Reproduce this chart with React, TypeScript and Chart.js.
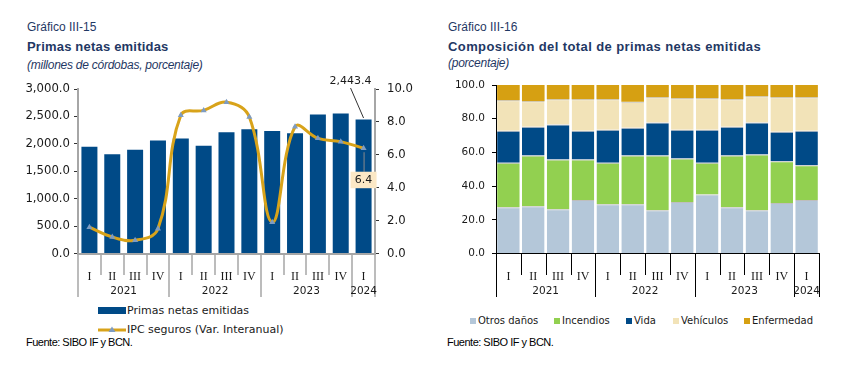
import React, { useEffect, useRef } from "react";
import { Chart, registerables } from "chart.js";

Chart.register(...registerables);

// ---------- data ----------
const quarters = ["I", "II", "III", "IV", "I", "II", "III", "IV", "I", "II", "III", "IV", "I"];
const yearLabels = ["2021", "2022", "2023", "2024"];
const yearSpans = [4, 4, 4, 1];

// Gráfico III-15
const primasNetas = [1945, 1811, 1890, 2061, 2098, 1963, 2213, 2268, 2232, 2195, 2537, 2555, 2443.4];
const ipcSeguros = [1.6, 1.0, 0.8, 1.5, 8.4, 8.7, 9.2, 8.3, 1.9, 7.7, 7.0, 6.8, 6.4];
const leftAxisMax = 3000;
const leftAxisStep = 500;
const rightAxisMax = 10;
const rightAxisStep = 2;

// Gráfico III-16 (porcentaje)
const compSeries = ["Otros daños", "Incendios", "Vida", "Vehículos", "Enfermedad"];
const otrosDanos = [27.5, 28.1, 26.3, 31.7, 29.3, 29.3, 25.7, 30.5, 35.0, 27.5, 25.7, 29.9, 31.7];
const incendios = [26.4, 30.1, 29.5, 24.1, 24.6, 28.9, 32.5, 25.9, 18.9, 30.7, 33.1, 24.8, 20.6];
const vida = [19.0, 17.0, 20.8, 17.1, 19.6, 16.5, 19.6, 17.1, 19.6, 17.0, 19.0, 17.6, 20.6];
const vehiculos = [18.0, 15.1, 14.9, 18.6, 18.0, 15.4, 14.9, 18.6, 18.6, 16.3, 15.5, 20.4, 19.8];
const enfermedad = [9.1, 9.7, 8.5, 8.5, 8.5, 9.9, 7.3, 7.9, 7.9, 8.5, 6.7, 7.3, 7.3];
const compAxisMax = 100;
const compAxisStep = 20;

// ---------- styles ----------
const VERDANA = '"DejaVu Sans", Verdana, sans-serif';
const ARIAL = '"Liberation Sans", Arial, sans-serif';
const SERIF = '"Liberation Serif", "Times New Roman", serif';
const TITLE_COLOR = "#1F3864";
const TEXT = "#1a1a1a";
const BAR_BLUE = "#004A87";
const GOLD_LINE = "#D8A31A";
const MARKER = "#7E9CC2";
const compColors = ["#B4C7D9", "#92D050", "#004A87", "#F2E3B8", "#D6A012"];
const compLegendX = [470, 554, 626, 673, 744];

function makeYearAxisPlugin(color: string, lineWidth: number) {
  return {
    id: "yearAxis",
    afterDraw(chart: any) {
      const xs = chart.scales.x;
      const ctx = chart.ctx;
      const n = quarters.length;
      const edge = (i: number) =>
        i <= 0 ? xs.left : i >= n ? xs.right : (xs.getPixelForValue(i - 1) + xs.getPixelForValue(i)) / 2;
      const y0 = chart.chartArea.bottom;
      const starts: number[] = [];
      let acc = 0;
      yearSpans.forEach((s) => {
        starts.push(acc);
        acc += s;
      });
      ctx.save();
      ctx.strokeStyle = color;
      ctx.lineWidth = lineWidth;
      for (let i = 0; i <= n; i++) {
        const isLong = starts.includes(i) || i === n;
        const x = Math.round(edge(i)) + (lineWidth % 2 === 1 ? 0.5 : 0);
        ctx.beginPath();
        ctx.moveTo(x, y0);
        ctx.lineTo(x, y0 + (isLong ? 43.5 : 21.5));
        ctx.stroke();
      }
      ctx.fillStyle = TEXT;
      ctx.font = `10.5px ${VERDANA}`;
      ctx.textAlign = "center";
      ctx.textBaseline = "middle";
      starts.forEach((s, k) => {
        const cx = (edge(s) + edge(s + yearSpans[k])) / 2;
        ctx.fillText(yearLabels[k], cx, y0 + 37.5);
      });
      ctx.restore();
    },
  };
}

const leftAnnotations = {
  id: "leftAnnotations",
  afterDatasetsDraw(chart: any) {
    const ctx = chart.ctx;
    const last = primasNetas.length - 1;
    const bar = chart.getDatasetMeta(0).data[last];
    const pt = chart.getDatasetMeta(1).data[last];
    ctx.save();
    ctx.strokeStyle = "#333";
    ctx.lineWidth = 1;
    ctx.beginPath();
    ctx.moveTo(bar.x - 13, bar.y - 31.5);
    ctx.lineTo(bar.x, bar.y - 1.5);
    ctx.stroke();
    ctx.fillStyle = TEXT;
    ctx.font = `11px ${VERDANA}`;
    ctx.textAlign = "center";
    ctx.textBaseline = "middle";
    ctx.fillText(
      primasNetas[last].toLocaleString("en-US", { minimumFractionDigits: 1, maximumFractionDigits: 1 }),
      bar.x - 13,
      bar.y - 38
    );
    const bx = pt.x;
    const by = pt.y + 23.5;
    ctx.strokeStyle = "#8a8a8a";
    ctx.beginPath();
    ctx.moveTo(bx + 0.5, pt.y + 4);
    ctx.lineTo(bx + 0.5, by);
    ctx.stroke();
    ctx.fillStyle = "#FBE8C6";
    ctx.fillRect(bx - 13, by, 26, 16.5);
    ctx.fillStyle = TEXT;
    ctx.fillText(ipcSeguros[last].toFixed(1), bx, by + 8.5);
    ctx.restore();
  },
};

function LeftChart() {
  const ref = useRef<HTMLCanvasElement | null>(null);
  useEffect(() => {
    if (!ref.current) return;
    const chart = new Chart(ref.current, {
      type: "bar",
      data: {
        labels: quarters,
        datasets: [
          {
            type: "bar",
            label: "Primas netas emitidas",
            data: primasNetas,
            backgroundColor: BAR_BLUE,
            borderWidth: 0,
            barPercentage: 0.7,
            categoryPercentage: 1,
            yAxisID: "y",
            order: 2,
          } as any,
          {
            type: "line",
            label: "IPC seguros (Var. Interanual)",
            data: ipcSeguros,
            borderColor: GOLD_LINE,
            borderWidth: 3,
            tension: 0.4,
            pointStyle: "triangle",
            pointRadius: 3.5,
            pointBackgroundColor: MARKER,
            pointBorderColor: MARKER,
            pointBorderWidth: 0,
            yAxisID: "y1",
            order: 1,
          } as any,
        ],
      },
      options: {
        responsive: false,
        animation: false,
        devicePixelRatio: 1,
        layout: { padding: { top: 19, left: 0, right: 0, bottom: 0 } },
        plugins: { legend: { display: false }, tooltip: { enabled: false } },
        scales: {
          x: {
            offset: true,
            grid: { display: false },
            border: { display: true, color: "#A6A6A6", width: 2 },
            ticks: { font: { family: SERIF, size: 12 }, color: TEXT, padding: 8, maxRotation: 0, autoSkip: false },
            afterFit: (s: any) => {
              s.height = 46.5;
            },
          },
          y: {
            position: "left",
            min: 0,
            max: leftAxisMax,
            ticks: {
              stepSize: leftAxisStep,
              font: { family: VERDANA, size: 11.7 },
              color: TEXT,
              padding: 4,
              callback: (v: any) =>
                Number(v).toLocaleString("en-US", { minimumFractionDigits: 1, maximumFractionDigits: 1 }),
            },
            grid: { drawOnChartArea: false, drawTicks: true, tickLength: 4, tickColor: "#333" },
            border: { display: true, color: "#A6A6A6", width: 2 },
            afterFit: (s: any) => {
              s.width = 58;
            },
          },
          y1: {
            position: "right",
            min: 0,
            max: rightAxisMax,
            ticks: {
              stepSize: rightAxisStep,
              font: { family: VERDANA, size: 11.7 },
              color: TEXT,
              padding: 8,
              callback: (v: any) => Number(v).toFixed(1),
            },
            grid: { drawOnChartArea: false, drawTicks: true, tickLength: 4, tickColor: "#333" },
            border: { display: true, color: "#A6A6A6", width: 2 },
            afterFit: (s: any) => {
              s.width = 45;
            },
          },
        },
      } as any,
      plugins: [makeYearAxisPlugin("#A6A6A6", 1.5), leftAnnotations],
    });
    return () => chart.destroy();
  }, []);
  return (
    <canvas
      ref={ref}
      width={400}
      height={230}
      style={{ position: "absolute", left: 20, top: 70, width: 400, height: 230 }}
    />
  );
}

function RightChart() {
  const ref = useRef<HTMLCanvasElement | null>(null);
  useEffect(() => {
    if (!ref.current) return;
    const seriesData = [otrosDanos, incendios, vida, vehiculos, enfermedad];
    const chart = new Chart(ref.current, {
      type: "bar",
      data: {
        labels: quarters,
        datasets: compSeries.map((label, i) => ({
          label,
          data: seriesData[i],
          backgroundColor: compColors[i],
          borderColor: "rgba(110,110,110,0.45)",
          borderWidth: { top: i === compSeries.length - 1 ? 0 : 1, right: 0, bottom: 0, left: 0 },
          borderSkipped: false,
          barPercentage: 0.91,
          categoryPercentage: 1,
        })) as any,
      },
      options: {
        responsive: false,
        animation: false,
        devicePixelRatio: 1,
        layout: { padding: { top: 15, left: 0, right: 28, bottom: 0 } },
        plugins: { tooltip: { enabled: false }, legend: { display: false } },
        scales: {
          x: {
            stacked: true,
            offset: true,
            grid: { display: false },
            border: { display: true, color: "#000", width: 1 },
            ticks: { font: { family: SERIF, size: 12 }, color: TEXT, padding: 8, maxRotation: 0, autoSkip: false },
            afterFit: (s: any) => {
              s.height = 46.5;
            },
          },
          y: {
            stacked: true,
            min: 0,
            max: compAxisMax,
            ticks: {
              stepSize: compAxisStep,
              font: { family: VERDANA, size: 10.5 },
              color: TEXT,
              padding: 7,
              callback: (v: any) => Number(v).toFixed(1),
            },
            grid: { drawOnChartArea: false, drawTicks: true, tickLength: 4, tickColor: "#000" },
            border: { display: true, color: "#000", width: 1 },
            afterFit: (s: any) => {
              s.width = 66;
            },
          },
        },
      } as any,
      plugins: [makeYearAxisPlugin("#000", 1)],
    });
    return () => chart.destroy();
  }, []);
  return (
    <canvas
      ref={ref}
      width={417}
      height={230}
      style={{ position: "absolute", left: 430, top: 70, width: 417, height: 230 }}
    />
  );
}

const txt = (
  left: number,
  top: number,
  size: number,
  extra: React.CSSProperties,
  content: string
) => (
  <div
    style={{
      position: "absolute",
      left,
      top,
      fontFamily: ARIAL,
      fontSize: size,
      lineHeight: `${size}px`,
      whiteSpace: "nowrap",
      color: TITLE_COLOR,
      ...extra,
    }}
  >
    {content}
  </div>
);

const legendText: React.CSSProperties = {
  position: "absolute",
  fontFamily: VERDANA,
  color: TEXT,
  whiteSpace: "nowrap",
};

export default function App() {
  return (
    <div
      style={{
        position: "absolute",
        left: 0,
        top: 0,
        width: 847,
        height: 383,
        background: "#fff",
        overflow: "hidden",
      }}
    >
      {txt(27, 21, 12, {}, "Gráfico III-15")}
      {txt(27, 40, 13, { fontWeight: "bold", letterSpacing: "0.2px" }, "Primas netas emitidas")}
      {txt(27, 59, 12, { fontStyle: "italic", letterSpacing: "-0.25px" }, "(millones de córdobas, porcentaje)")}

      {txt(448, 21, 12, {}, "Gráfico III-16")}
      {txt(448, 40, 13, { fontWeight: "bold", letterSpacing: "0.4px" }, "Composición del total de primas netas emitidas")}
      {txt(448, 57, 12, { fontStyle: "italic", letterSpacing: "-0.25px" }, "(porcentaje)")}

      <LeftChart />
      <RightChart />

      {/* left legend */}
      <div style={{ position: "absolute", left: 98, top: 307, width: 28, height: 7, background: BAR_BLUE }} />
      <div style={{ ...legendText, left: 127, top: 304, fontSize: 11, lineHeight: "14px" }}>Primas netas emitidas</div>
      <svg style={{ position: "absolute", left: 96, top: 324 }} width={32} height={12}>
        <line x1={2} y1={6} x2={30} y2={6} stroke={GOLD_LINE} strokeWidth={3} />
        <polygon points="16,2.5 19.5,8 12.5,8" fill={MARKER} />
      </svg>
      <div style={{ ...legendText, left: 127, top: 322.5, fontSize: 11, lineHeight: "14px" }}>
        IPC seguros (Var. Interanual)
      </div>

      {/* right legend */}
      {compSeries.map((name, i) => (
        <React.Fragment key={name}>
          <div
            style={{
              position: "absolute",
              left: compLegendX[i],
              top: 318,
              width: 6,
              height: 6,
              background: compColors[i],
            }}
          />
          <div style={{ ...legendText, left: compLegendX[i] + 8, top: 315, fontSize: 10, lineHeight: "12px" }}>
            {name}
          </div>
        </React.Fragment>
      ))}

      {txt(26, 337, 11, { color: "#000", letterSpacing: "-0.5px" }, "Fuente: SIBO IF y BCN.")}
      {txt(447, 337, 11, { color: "#000", letterSpacing: "-0.5px" }, "Fuente: SIBO IF y BCN.")}
    </div>
  );
}
